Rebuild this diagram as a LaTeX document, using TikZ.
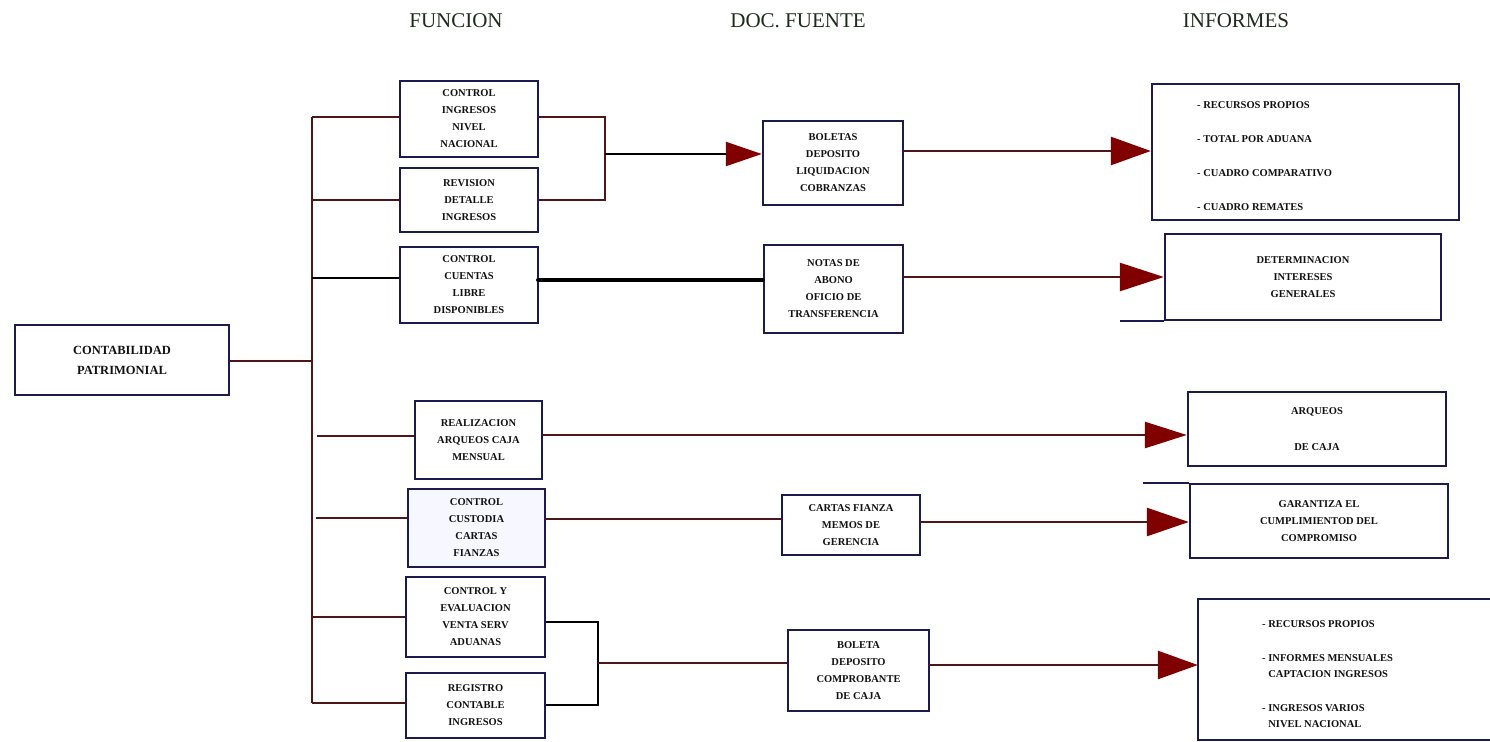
\documentclass[tikz,border=0pt]{standalone}
\usepackage{fontspec}
\setmainfont{Liberation Serif}
\usetikzlibrary{arrows.meta}

\definecolor{frame}{RGB}{27,27,77}
\definecolor{wire}{RGB}{78,22,22}
\definecolor{tipred}{RGB}{128,0,0}
\definecolor{headcol}{RGB}{28,43,28}
\definecolor{ink}{RGB}{17,17,17}

\tikzset{
  box/.style={draw=frame, line width=2.4pt, fill=white, rectangle, inner sep=0pt,
    align=center, text=ink, font=\fontsize{10.5}{17}\selectfont\bfseries},
  bigbox/.style={box, font=\fontsize{12.5}{20}\selectfont\bfseries},
  listtext/.style={inner sep=0pt, align=left, text=ink, font=\fontsize{10.5}{16}\selectfont\bfseries},
  header/.style={text=headcol, font=\fontsize{21}{24}\selectfont, inner sep=0pt},
  link/.style={draw=wire, line width=2.6pt},
  blink/.style={draw=black, line width=2.6pt},
  arr/.style 2 args={-{Triangle[length=#1pt, width=#2pt, color=tipred, fill=tipred]}}
}

\begin{document}
\begin{tikzpicture}[x=1pt, y=-1pt]
\useasboundingbox (0,0) rectangle (1490,741);
\clip (0,0) rectangle (1490,741);

% column headings
\node[header, anchor=base] (hfun) at (456,28) {FUNCION};
\node[header, anchor=base] (hdoc) at (798,28) {DOC. FUENTE};
\node[header, anchor=base] (hinf) at (1236,28) {INFORMES};

% root
\node[bigbox, minimum width=214pt, minimum height=70pt] (cp) at (122,360) {CONTABILIDAD\\PATRIMONIAL};

% functions
\node[box, minimum width=138pt, minimum height=76pt] (f1) at (469,119) {CONTROL\\INGRESOS\\NIVEL\\NACIONAL};
\node[box, minimum width=138pt, minimum height=64pt] (f2) at (469,200) {REVISION\\DETALLE\\INGRESOS};
\node[box, minimum width=138pt, minimum height=76pt] (f3) at (469,285) {CONTROL\\CUENTAS\\LIBRE\\DISPONIBLES};
\node[box, minimum width=127pt, minimum height=78pt] (f4) at (478.5,440) {REALIZACION\\ARQUEOS CAJA\\MENSUAL};
\node[box, minimum width=137pt, minimum height=78pt, fill=blue!3] (f5) at (476.5,528) {CONTROL\\CUSTODIA\\CARTAS\\FIANZAS};
\node[box, minimum width=139pt, minimum height=80pt] (f6) at (475.5,617) {CONTROL Y\\EVALUACION\\VENTA SERV\\ADUANAS};
\node[box, minimum width=139pt, minimum height=65pt] (f7) at (475.5,705.5) {REGISTRO\\CONTABLE\\INGRESOS};

% source documents
\node[box, minimum width=140pt, minimum height=84pt] (d1) at (833,163) {BOLETAS\\DEPOSITO\\LIQUIDACION\\COBRANZAS};
\node[box, minimum width=139pt, minimum height=88pt] (d2) at (833.5,289) {NOTAS DE\\ABONO\\OFICIO DE\\TRANSFERENCIA};
\node[box, minimum width=138pt, minimum height=60pt] (d3) at (851,525) {CARTAS FIANZA\\MEMOS DE\\GERENCIA};
\node[box, minimum width=141pt, minimum height=81pt] (d4) at (858.5,670.5) {BOLETA\\DEPOSITO\\COMPROBANTE\\DE CAJA};

% reports
\node[box, minimum width=307pt, minimum height=136pt] (i1) at (1305.5,152) {};
\node[listtext, anchor=west, font=\fontsize{10.5}{34}\selectfont\bfseries] (i1t) at (1197,156)
  {- RECURSOS PROPIOS\\- TOTAL POR ADUANA\\- CUADRO COMPARATIVO\\- CUADRO REMATES};
\node[box, minimum width=276pt, minimum height=86pt] (i2) at (1303,277) {DETERMINACION\\INTERESES\\GENERALES};
\node[box, minimum width=258pt, minimum height=74pt] (i3) at (1317,429) {ARQUEOS\\[19pt]DE CAJA};
\node[box, minimum width=258pt, minimum height=74pt] (i4) at (1319,521) {GARANTIZA EL\\CUMPLIMIENTOD DEL\\COMPROMISO};
\node[box, draw=none, minimum width=300pt, minimum height=139pt] (i5) at (1349,669.5) {};
\draw[draw=frame, line width=2.4pt] (i5.north east) -- (i5.north west) -- (i5.south west) -- (i5.south east);
\node[listtext, anchor=west] (i5t) at (1262,674)
  {- RECURSOS PROPIOS\\[18pt]- INFORMES MENSUALES\\\phantom{- }CAPTACION INGRESOS\\[18pt]- INGRESOS VARIOS\\\phantom{- }NIVEL NACIONAL};

% stray rules beside two report boxes
\coordinate (r2) at (1120,320);
\coordinate (r4) at (1143,484);
\draw[draw=frame, line width=2.4pt] (r2 |- i2.south west) -- (i2.south west);
\draw[draw=frame, line width=2.4pt] (r4 |- i4.north west) -- (i4.north west);

% trunk and branches
\coordinate (t1) at (312,117);
\coordinate (t2) at (312,200);
\coordinate (t3) at (312,278);
\coordinate (t4) at (317,436);
\coordinate (t5) at (316,518);
\coordinate (t6) at (312,617);
\coordinate (t7) at (312,703);
\coordinate (tc) at (312,361);
\draw[link] (t1) -- (t7);
\draw[link] (cp.east |- tc) -- (tc);
\draw[link] (t1) -- (t1 -| f1.west);
\draw[link] (t2) -- (t2 -| f2.west);
\draw[blink] (t3) -- (t3 -| f3.west);
\draw[link] (t4) -- (t4 -| f4.west);
\draw[link] (t5) -- (t5 -| f5.west);
\draw[link] (t6) -- (t6 -| f6.west);
\draw[link] (t7) -- (t7 -| f7.west);

% upper bracket into the deposit slips
\coordinate (b1) at (605,117);
\coordinate (b2) at (605,200);
\coordinate (bm) at (605,154);
\draw[link] (b1 -| f1.east) -- (b1) -- (b2) -- (b2 -| f2.east);
\draw[blink, line width=2.2pt, arr={36}{24}] (bm) -- (bm -| d1.west);

% lower bracket into the cash receipt
\coordinate (c1) at (598,622);
\coordinate (c2) at (598,705);
\coordinate (cm) at (598,663);
\draw[blink] (c1 -| f6.east) -- (c1) -- (c2) -- (c2 -| f7.east);
\draw[link] (cm) -- (cm -| d4.west);

% function to document
\coordinate (e3) at (538,280);
\draw[draw=black, line width=4pt, line cap=round] (e3) -- (e3 -| d2.west);
\coordinate (e5) at (545,519);
\draw[link] (e5) -- (e5 -| d3.west);

% into the reports
\coordinate (g1) at (903,151);
\draw[link, arr={40}{28}] (g1) -- (g1 -| i1.west);
\coordinate (g2) at (903,277);
\draw[link, arr={44}{28}] (g2) -- (g2 -| i2.west);
\coordinate (g3) at (542,435);
\draw[link, arr={42}{26}] (g3) -- (g3 -| i3.west);
\coordinate (g4) at (920,522);
\draw[link, arr={42}{28}] (g4) -- (g4 -| i4.west);
\coordinate (g5) at (929,665);
\draw[link, arr={40}{28}] (g5) -- (g5 -| i5.west);
\end{tikzpicture}
\end{document}
